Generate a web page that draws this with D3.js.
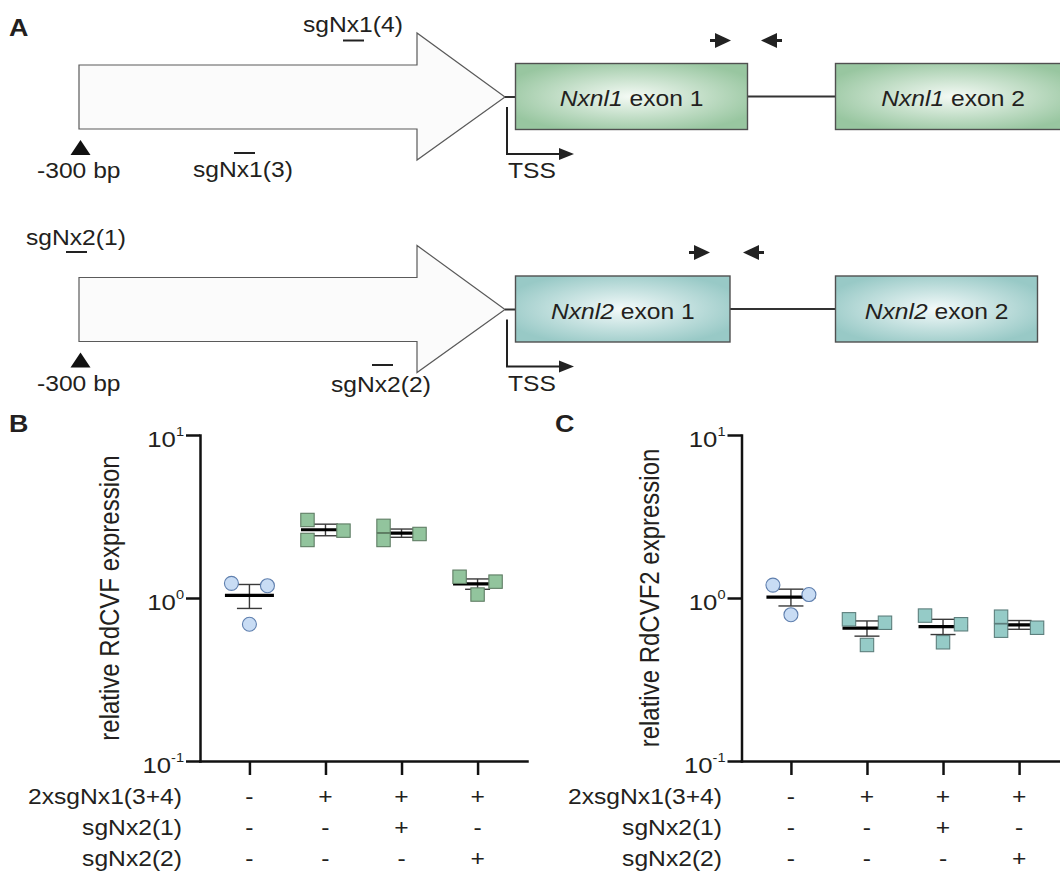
<!DOCTYPE html>
<html><head><meta charset="utf-8">
<script src="https://cdn.jsdelivr.net/npm/d3@7"></script>
<style>html,body{margin:0;padding:0;background:#fff;} svg{display:block;}</style>
</head><body>
<svg id="fig" width="1060" height="873"></svg>
<script>
// ---------------- data ----------------
const groups = ["ctrl", "x1", "x1+x2(1)", "x1+x2(2)"];
const rdcvfValues = [[1.23, 1.19, 0.69], [3.01, 2.27, 2.59], [2.77, 2.27, 2.47], [1.35, 1.26, 1.05]];
const rdcvf2Values = [[1.20, 1.05, 0.79], [0.74, 0.705, 0.515], [0.78, 0.69, 0.535], [0.768, 0.63, 0.657]];
const yTickValues = [0.1, 1, 10];
const yTickExponents = ["-1", "0", "1"];
const rowLabels = ["2xsgNx1(3+4)", "sgNx2(1)", "sgNx2(2)"];
const rowSigns = [["-", "+", "+", "+"], ["-", "-", "+", "-"], ["-", "-", "-", "+"]];
const titleB = "relative RdCVF expression";
const titleC = "relative RdCVF2 expression";
const genes = ["Nxnl1", "Nxnl2"];
const guidesTop = ["sgNx1(4)", "sgNx1(3)"];
const guidesBottom = ["sgNx2(1)", "sgNx2(2)"];

// ---------------- layout / style ----------------
const SX = 1.12;
const FONT = '"Liberation Sans", Arial, Helvetica, sans-serif';
const INK = "#231f20";
const jitterB = [[-1, 1, 0], [-1, -1, 1], [-1, -1, 1], [-1, 1, 0]];
const jitterC = [[-1, 1, 0], [-1, 1, 0], [-1, 1, 0], [-1, -1, 1]];

const svg = d3.select("#fig");
const defs = svg.append("defs");
function grad(id, c0, c1) {
  const g = defs.append("radialGradient").attr("id", id).attr("cx", "50%").attr("cy", "50%").attr("r", "58%");
  g.append("stop").attr("offset", "0%").attr("stop-color", c0);
  g.append("stop").attr("offset", "100%").attr("stop-color", c1);
}
grad("gGreen", "#f4faf5", "#98c6a0");
grad("gTeal", "#f3fafa", "#98c9c6");

function txt(parent, x, y, s, o = {}) {
  const g = parent.append("g").attr("transform", `translate(${x},${y}) scale(${SX},1)`);
  const t = g.append("text").attr("font-family", FONT).attr("font-size", o.size || 22)
    .attr("fill", o.fill || INK).attr("text-anchor", o.anchor || "start");
  if (o.weight) t.attr("font-weight", o.weight);
  if (Array.isArray(s)) s.forEach(p => t.append("tspan").attr("font-style", p.italic ? "italic" : null).text(p.text));
  else t.text(s);
  return t;
}

// ---------------- Panel A ----------------
const A = svg.append("g");
txt(A, 9, 36, "A", {size: 24, weight: "bold"});

function geneRow(cfg) {
  const dy = cfg.dy;
  // promoter arrow
  A.append("polygon")
    .attr("points", [[79, 65], [417, 65], [417, 33], [505, 97], [417, 160], [417, 129], [79, 129]]
      .map(p => [p[0], p[1] + dy].join(",")).join(" "))
    .attr("fill", "#fbfbfb").attr("stroke", "#5a5a5a").attr("stroke-width", 1.2);
  // connector lines
  A.append("line").attr("x1", 505).attr("x2", 516).attr("y1", 97 + dy).attr("y2", 97 + dy).attr("stroke", "#333").attr("stroke-width", 2);
  A.append("line").attr("x1", cfg.e1r).attr("x2", 836).attr("y1", 96.5 + dy).attr("y2", 96.5 + dy).attr("stroke", "#333").attr("stroke-width", 2);
  // exons
  [[515.5, cfg.e1r], [835.5, cfg.e2r]].forEach((e, i) => {
    A.append("rect").attr("x", e[0]).attr("y", 63.5 + dy).attr("width", e[1] - e[0]).attr("height", 66)
      .attr("fill", `url(#${cfg.grad})`).attr("stroke", "#505050").attr("stroke-width", 1.4);
    const cx = i === 0 ? (e[0] + e[1]) / 2 : cfg.t2x;
    txt(A, cx, 106 + dy, [{text: cfg.gene, italic: true}, {text: " exon " + (i + 1)}], {anchor: "middle"});
  });
  // -300 bp marker
  A.append("polygon").attr("points", `70.5,${155 + dy} 80.5,${140 + dy} 90.5,${155 + dy}`).attr("fill", "#111");
  txt(A, 37, 178 + dy, "-300 bp");
  // TSS
  A.append("path").attr("d", `M507,${107 + dy}V${154 + dy}H566`).attr("fill", "none").attr("stroke", "#222").attr("stroke-width", 2);
  A.append("polygon").attr("points", `559,${148 + dy} 574,${154 + dy} 559,${160 + dy}`).attr("fill", "#222");
  txt(A, 508, 178 + dy, "TSS");
  // primers
  const py = cfg.py;
  A.append("rect").attr("x", cfg.p1).attr("y", py - 1.5).attr("width", 8).attr("height", 3).attr("fill", "#222");
  A.append("polygon").attr("points", `${cfg.p1 + 5},${py - 7.5} ${cfg.p1 + 21},${py} ${cfg.p1 + 5},${py + 7.5}`).attr("fill", "#222");
  A.append("rect").attr("x", cfg.p2 + 13).attr("y", py - 1.5).attr("width", 8).attr("height", 3).attr("fill", "#222");
  A.append("polygon").attr("points", `${cfg.p2 + 16},${py - 7.5} ${cfg.p2},${py} ${cfg.p2 + 16},${py + 7.5}`).attr("fill", "#222");
  // guides
  cfg.guides.forEach(gd => {
    txt(A, gd.tx, gd.ty, gd.label);
    A.append("line").attr("x1", gd.bx).attr("x2", gd.bx + 21).attr("y1", gd.by).attr("y2", gd.by).attr("stroke", "#222").attr("stroke-width", 2);
  });
}
geneRow({dy: 0, gene: genes[0], grad: "gGreen", e1r: 747.5, e2r: 1072, t2x: 953, py: 40.5, p1: 710, p2: 761,
  guides: [{label: guidesTop[0], tx: 303, ty: 32, bx: 343, by: 40.5}, {label: guidesTop[1], tx: 193, ty: 177, bx: 234, by: 153}]});
geneRow({dy: 212.5, gene: genes[1], grad: "gTeal", e1r: 730, e2r: 1037.5, t2x: 936.5, py: 252.5, p1: 689, p2: 743,
  guides: [{label: guidesBottom[0], tx: 26, ty: 245, bx: 66, by: 252}, {label: guidesBottom[1], tx: 331, ty: 392, bx: 372, by: 365}]});

// ---------------- Panels B, C ----------------
function drawPanel(cfg) {
  const g = svg.append("g");
  txt(g, cfg.letterX, 432, cfg.letter, {size: 24, weight: "bold"});
  const y = d3.scaleLog().domain([0.1, 10]).range([761, 435]);
  const x = d3.scalePoint().domain(groups).range([cfg.ax, cfg.ax + 327]).padding(0.65);

  const gy = g.append("g").attr("transform", `translate(${cfg.ax},0)`)
    .call(d3.axisLeft(y).tickValues(yTickValues).tickSize(14).tickSizeOuter(0).tickFormat(""));
  const gx = g.append("g").attr("transform", "translate(0,761)")
    .call(d3.axisBottom(x).tickSize(14).tickSizeOuter(0).tickFormat(""));
  [gy, gx].forEach(a => {
    a.selectAll("path,line").attr("stroke", "#111").attr("stroke-width", 2.5);
    a.select(".domain").attr("stroke-linecap", "square");
  });

  // y tick labels 10^n
  yTickValues.forEach((v, i) => {
    const t = txt(g, cfg.ax - 16, y(v) + 12, "10", {anchor: "end", size: 23});
    t.append("tspan").attr("font-size", 13).attr("dy", -11).text(yTickExponents[i]);
  });

  // y title
  g.append("g").attr("transform", `translate(${cfg.titleX},598) rotate(-90) scale(1,${SX})`)
    .append("text").attr("font-family", FONT).attr("font-size", 24).attr("fill", INK)
    .attr("text-anchor", "middle").text(cfg.title);

  // stats and points
  cfg.values.forEach((vals, i) => {
    const cx = x(groups[i]);
    const m = d3.mean(vals);
    const sem = d3.deviation(vals) / Math.sqrt(vals.length);
    const eb = g.append("g").attr("stroke", "#3a3a3a").attr("stroke-width", 1.4);
    eb.append("line").attr("x1", cx).attr("x2", cx).attr("y1", y(m + sem)).attr("y2", y(m - sem));
    [m + sem, m - sem].forEach(v => eb.append("line").attr("x1", cx - 12.5).attr("x2", cx + 12.5).attr("y1", y(v)).attr("y2", y(v)));
    g.append("line").attr("x1", cx - 24.5).attr("x2", cx + 24.5).attr("y1", y(m)).attr("y2", y(m)).attr("stroke", "#000").attr("stroke-width", 3.2);

    vals.forEach((v, j) => {
      const px = cx + cfg.jitter[i][j] * 18;
      if (i === 0) {
        g.append("circle").attr("cx", px).attr("cy", y(v)).attr("r", 7)
          .attr("fill", "#c8dcf4").attr("stroke", "#5f7fae").attr("stroke-width", 1.1);
      } else {
        g.append("rect").attr("x", px - 6.7).attr("y", y(v) - 6.7).attr("width", 13.4).attr("height", 13.4)
          .attr("fill", cfg.sqFill).attr("stroke", cfg.sqStroke).attr("stroke-width", 1.1);
      }
    });
  });

  // condition table
  const rowY = [804, 835, 866];
  rowLabels.forEach((lab, r) => {
    txt(g, cfg.labelX, rowY[r], lab, {anchor: "end"});
    rowSigns[r].forEach((s, c) => txt(g, x(groups[c]), rowY[r], s, {anchor: "middle"}));
  });
}

drawPanel({letter: "B", letterX: 9, ax: 200, values: rdcvfValues, jitter: jitterB, title: titleB, titleX: 119,
  labelX: 182, sqFill: "#92c49d", sqStroke: "#5f7d64"});
drawPanel({letter: "C", letterX: 555, ax: 741.5, values: rdcvf2Values, jitter: jitterC, title: titleC, titleX: 659,
  labelX: 722, sqFill: "#95cbc7", sqStroke: "#5d7f7d"});
</script>
</body></html>
